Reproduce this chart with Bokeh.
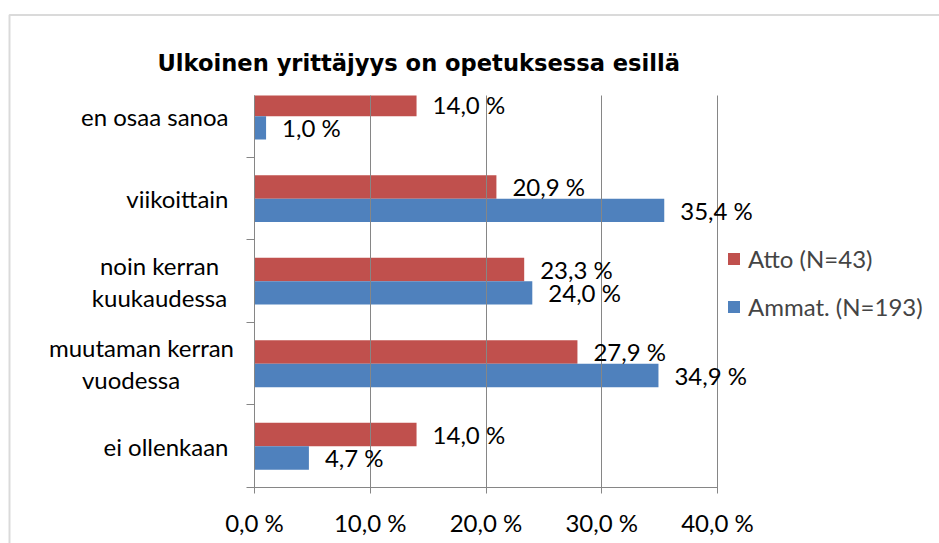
from bokeh.plotting import figure
from bokeh.models import (ColumnDataSource, LabelSet, Label, Legend, LegendItem,
                          FixedTicker, BoxAnnotation, Range1d)
from bokeh.core.properties import value
from bokeh.embed import file_html
from bokeh.resources import INLINE

# ---- data (bottom to top) ----
categories = ["ei ollenkaan", "muutaman kerran\nvuodessa", "noin kerran\nkuukaudessa",
              "viikoittain", "en osaa sanoa"]
atto = [14.0, 27.9, 23.3, 20.9, 14.0]
ammat = [4.7, 34.9, 24.0, 35.4, 1.0]
series_names = ["Atto (N=43)", "Ammat. (N=193)"]
x_ticks = [0, 10, 20, 30, 40]
x_tick_labels = ["0,0 %", "10,0 %", "20,0 %", "30,0 %", "40,0 %"]
title_text = "Ulkoinen yrittäjyys on opetuksessa esillä"

RED = "#C0504D"
BLUE = "#4F81BD"
GRID = "#868686"
FONT = "Lato"
FS = "24px"

W, H = 939, 543
# plot-area geometry in canvas px
X0_PX, X40_PX = 254.0, 717.0
YBOT_PX, YTOP_PX = 487.0, 95.0
X_MAX, Y_MIN, Y_MAX = 40.0, -0.5, 4.25

sx = (X40_PX - X0_PX) / X_MAX
sy = (YBOT_PX - YTOP_PX) / (Y_MAX - Y_MIN)

def data_x(px):
    return (px - X0_PX) / sx

def data_y(py):
    return Y_MIN + (YBOT_PX - py) / sy

def fmt(v):
    return f"{v:.1f} %".replace(".", ",")

idx = list(range(len(categories)))
bar_h = 0.284

def bars(vals, sign):
    yc = [i + sign * bar_h / 2 for i in idx]
    return ColumnDataSource(dict(
        y=yc, v=vals, t=[fmt(v) for v in vals],
        bottom=[max(y - bar_h / 2, Y_MIN) for y in yc],
        top=[min(y + bar_h / 2, Y_MAX) for y in yc]))

src_a = bars(atto, +1)
src_b = bars(ammat, -1)

p = figure(width=W, height=H, output_backend="svg", toolbar_location=None,
           x_range=Range1d(data_x(0), data_x(W)), y_range=Range1d(data_y(H), data_y(0)),
           min_border=0, min_border_left=0, min_border_right=0,
           min_border_top=0, min_border_bottom=0)
p.outline_line_color = None
p.background_fill_color = "white"
p.border_fill_color = "white"
p.xgrid.visible = False
p.ygrid.visible = False

ra = p.quad(left=0, right="v", bottom="bottom", top="top", source=src_a,
            color=RED, line_color=None)
rb = p.quad(left=0, right="v", bottom="bottom", top="top", source=src_b,
            color=BLUE, line_color=None)

for s in (src_a, src_b):
    p.add_layout(LabelSet(x="v", y="y", text="t", source=s, x_offset=16,
                          text_align="left", text_baseline="middle",
                          text_font=value(FONT), text_font_size=value(FS),
                          text_color="black"))

# x axis (ticks drawn inward act as the vertical gridlines)
xa = p.xaxis[0]
xa.fixed_location = Y_MIN
xa.bounds = (0, X_MAX)
xa.ticker = FixedTicker(ticks=x_ticks)
xa.major_label_overrides = {t: l for t, l in zip(x_ticks, x_tick_labels)}
xa.major_label_text_font = FONT
xa.major_label_text_font_size = FS
xa.major_label_text_color = "black"
xa.axis_line_color = GRID
xa.major_tick_line_color = GRID
xa.major_tick_out = 6
xa.major_tick_in = int(YBOT_PX - YTOP_PX)
xa.minor_tick_line_color = None
xa.major_label_standoff = 14

# y axis
ya = p.yaxis[0]
ya.fixed_location = 0
ya.bounds = (Y_MIN, Y_MAX)
ya.ticker = FixedTicker(ticks=[], minor_ticks=[i - 0.5 for i in idx])
ya.axis_line_color = GRID
ya.minor_tick_line_color = GRID
ya.minor_tick_out = 8
ya.minor_tick_in = 0
ya.major_tick_line_color = None
ya.major_label_text_font_size = "0px"

# category labels (layout positions in px)
line_centers = {1: [141.0, 130.5], 2: [159.0, 159.0]}
line_gap = 31.7 / sy
for i, cat in enumerate(categories):
    lines = cat.split("\n")
    if len(lines) == 1:
        p.add_layout(Label(x=data_x(228), y=i, text=lines[0], text_align="right",
                           text_baseline="middle", text_font=FONT, text_font_size=FS,
                           text_color="black"))
    else:
        for j, ln in enumerate(lines):
            yy = i + (0.5 - j) * line_gap
            p.add_layout(Label(x=data_x(line_centers[i][j]), y=yy, text=ln,
                               text_align="center", text_baseline="middle",
                               text_font=FONT, text_font_size=FS, text_color="black"))

# title
p.add_layout(Label(x=data_x(157), y=data_y(62), text=title_text, text_align="left",
                   text_baseline="alphabetic", text_font="DejaVu Sans",
                   text_font_style="bold", text_font_size="22.6px", text_color="black"))

# legend
legend = Legend(items=[LegendItem(label=series_names[0], renderers=[ra]),
                       LegendItem(label=series_names[1], renderers=[rb])],
                location=(726, 222), padding=0, margin=0, border_line_color=None,
                background_fill_alpha=0, glyph_width=15, glyph_height=15,
                label_standoff=7, spacing=18, label_text_font=FONT,
                label_text_font_size=FS, label_height=30)
p.add_layout(legend)

# chart-area border
p.add_layout(BoxAnnotation(left=data_x(9), top=data_y(14.5), right=data_x(W + 50),
                           bottom=data_y(H + 50), fill_alpha=0, line_color=GRID,
                           line_width=2))

open("out.html", "w").write(file_html(p, INLINE))
